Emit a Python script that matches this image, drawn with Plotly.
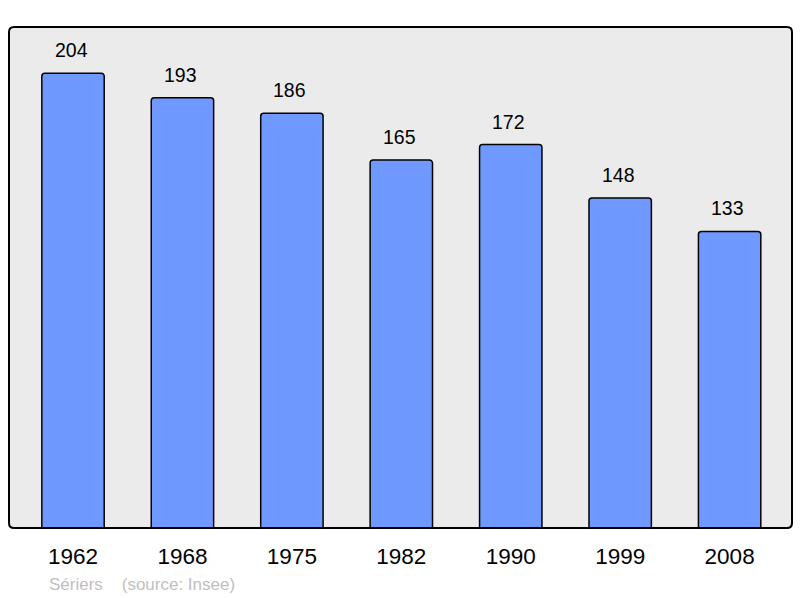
import plotly.graph_objects as go

years = ["1962", "1968", "1975", "1982", "1990", "1999", "2008"]
population = [204, 193, 186, 165, 172, 148, 133]
source_text = "Sériers    (source: Insee)"

W, H = 800, 598
ml, mr, mt, mb = 9, 8, 27, 70
pw, ph = W - ml - mr, H - mt - mb

fig = go.Figure()
fig.add_trace(go.Bar(
    x=list(range(len(years))), y=population, width=0.57,
    marker=dict(color="#7099ff", line=dict(color="#000000", width=1.5), cornerradius=3),
    hoverinfo="skip",
))

for i, v in enumerate(population):
    fig.add_annotation(x=i, y=v, text=str(v), showarrow=False, xanchor="center",
                       yanchor="bottom", yshift=10, xshift=-2,
                       font=dict(family="Liberation Sans, Arial, sans-serif", size=19.5, color="#000"))

fig.add_annotation(xref="paper", yref="paper", x=(47 - ml) / pw, y=(mt + ph - 584) / ph,
                   text=source_text, showarrow=False, xanchor="left", yanchor="middle",
                   font=dict(family="Liberation Sans, Arial, sans-serif", size=17, color="#c0c0c0"))

# rounded border of plot area
r = 5
rx, ry = r / pw, r / ph
path = (f"M {rx},0 L {1-rx},0 Q 1,0 1,{ry} L 1,{1-ry} Q 1,1 {1-rx},1 "
        f"L {rx},1 Q 0,1 0,{1-ry} L 0,{ry} Q 0,0 {rx},0 Z")
fig.add_shape(type="path", xref="paper", yref="paper", path=path,
              fillcolor="#ebebeb", line=dict(width=0), layer="below")
fig.add_shape(type="path", xref="paper", yref="paper", path=path,
              fillcolor="rgba(0,0,0,0)", line=dict(color="#000000", width=2), layer="above")

fig.update_layout(
    width=W, height=H,
    margin=dict(l=ml, r=mr, t=mt, b=mb),
    paper_bgcolor="#ffffff", plot_bgcolor="rgba(0,0,0,0)",
    showlegend=False,
    xaxis=dict(range=[-0.585, 6.57], tickmode="array", tickvals=list(range(len(years))),
               ticktext=years, showgrid=False, zeroline=False, showline=False,
               ticks="", ticklabelstandoff=12,
               tickfont=dict(family="Liberation Sans, Arial, sans-serif", size=22.5, color="#000")),
    yaxis=dict(range=[0, 224.7], showgrid=False, zeroline=False, showticklabels=False,
               showline=False, ticks=""),
)

fig.write_html("out.html", config={"displayModeBar": False},
               post_script="document.body.style.margin='0';document.body.style.overflow='hidden';")
